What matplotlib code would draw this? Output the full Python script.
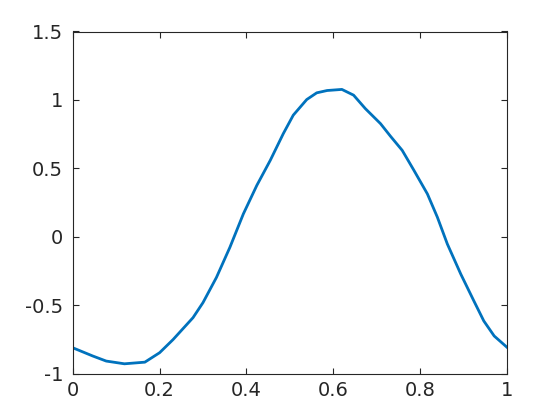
import matplotlib
matplotlib.use("Agg")
import matplotlib.pyplot as plt
import numpy as np

x = [0.0, 0.046, 0.077, 0.119, 0.166, 0.2, 0.231, 0.277, 0.30, 0.331, 0.362, 0.393,
     0.424, 0.455, 0.485, 0.508, 0.539, 0.562, 0.586, 0.62, 0.647, 0.674, 0.709,
     0.732, 0.759, 0.786, 0.817, 0.840, 0.863, 0.894, 0.924, 0.947, 0.971, 1.0]
y = [-0.81, -0.87, -0.907, -0.927, -0.915, -0.846, -0.75, -0.59, -0.48, -0.296,
     -0.076, 0.168, 0.376, 0.559, 0.754, 0.889, 1.003, 1.052, 1.069, 1.077, 1.035,
     0.937, 0.827, 0.735, 0.632, 0.486, 0.314, 0.144, -0.052, -0.272, -0.467,
     -0.614, -0.724, -0.805]
xticks = [0, 0.2, 0.4, 0.6, 0.8, 1]
xticklabels = ["0", "0.2", "0.4", "0.6", "0.8", "1"]
yticks = [-1, -0.5, 0, 0.5, 1, 1.5]
yticklabels = ["-1", "-0.5", "0", "0.5", "1", "1.5"]

plt.rcParams['font.family'] = ['DejaVu Sans']
fig = plt.figure(figsize=(5.6, 4.2), dpi=100)
ax = fig.add_axes([0.13, 0.11, 0.775, 0.815])
ax.plot(x, y, color='#0072BD', linewidth=2.0, solid_joinstyle='round')
ax.set_xlim(0, 1)
ax.set_ylim(-1, 1.5)
ax.set_xticks(xticks)
ax.set_xticklabels(xticklabels)
ax.set_yticks(yticks)
ax.set_yticklabels(yticklabels)
gray = '#262626'
for s in ax.spines.values():
    s.set_color(gray)
    s.set_linewidth(0.8)
ax.tick_params(direction='in', top=True, right=True, length=4, width=0.8,
               colors=gray, labelsize=14)
ax.tick_params(axis='y', pad=7)
ax.tick_params(axis='x', pad=5)
fig.savefig('out.png', dpi=100)
